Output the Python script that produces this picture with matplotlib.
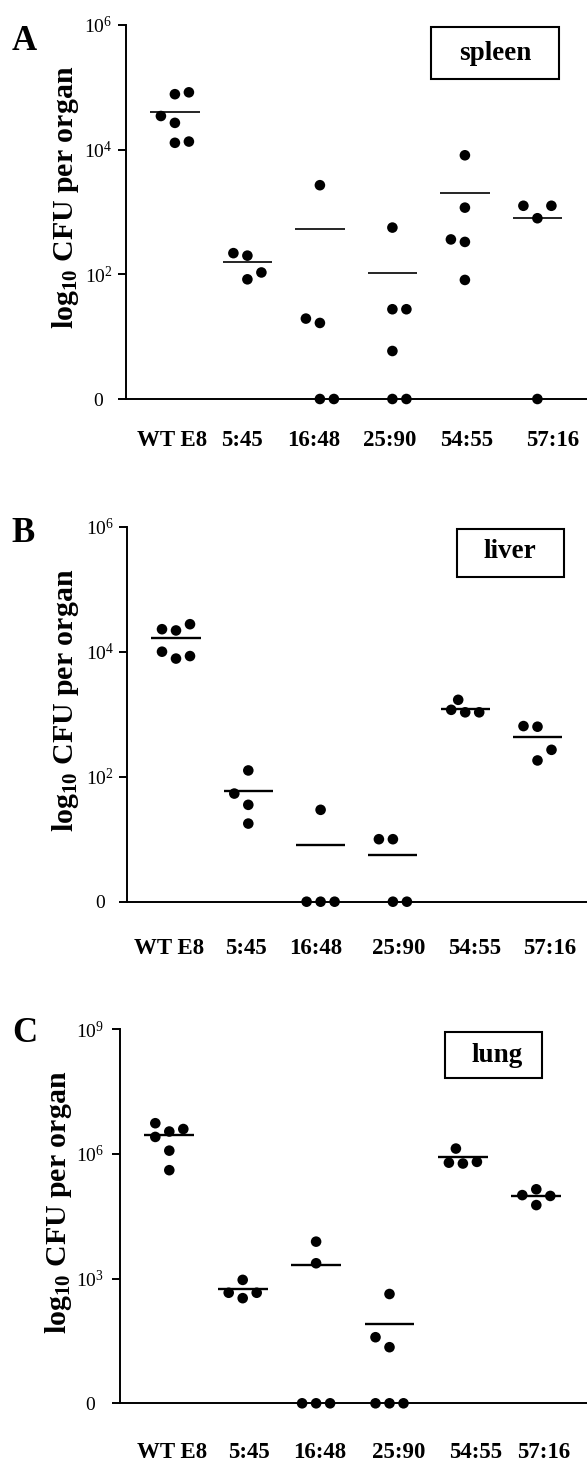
import matplotlib
matplotlib.use("Agg")
import matplotlib.pyplot as plt
from matplotlib.patches import Rectangle

plt.rcParams['font.family'] = ['Liberation Serif', 'DejaVu Serif']
plt.rcParams['mathtext.fontset'] = 'custom'
plt.rcParams['mathtext.rm'] = 'Liberation Serif'
plt.rcParams['mathtext.bf'] = 'Liberation Serif:bold'
plt.rcParams['mathtext.default'] = 'regular'

# ---------------- data (log10 CFU per organ; 0 = no CFU) ----------------
strains = ["WT E8", "5:45", "16:48", "25:90", "54:55", "57:16"]

# Panel A - spleen
spleen_vals = [
    [4.54, 4.89, 4.92, 4.43, 4.11, 4.13],
    [2.34, 2.30, 1.92, 2.03],
    [3.43, 1.29, 1.22, 0, 0],
    [2.75, 1.44, 1.44, 0.77, 0, 0],
    [3.91, 3.07, 2.56, 2.52, 1.91],
    [3.10, 3.10, 2.90, 0],
]
spleen_means = [4.61, 2.19, 2.73, 2.02, 3.31, 2.91]

# Panel B - liver
liver_vals = [
    [4.36, 4.34, 4.44, 4.00, 3.89, 3.93],
    [2.10, 1.73, 1.55, 1.25],
    [1.47, 0, 0, 0],
    [1.00, 1.00, 0, 0],
    [3.23, 3.07, 3.03, 3.03],
    [2.81, 2.80, 2.43, 2.26],
]
liver_means = [4.22, 1.77, 0.90, 0.75, 3.09, 2.64]

# Panel C - lung
lung_vals = [
    [6.74, 6.41, 6.54, 6.60, 6.08, 5.61],
    [2.97, 2.66, 2.66, 2.53],
    [3.89, 3.37, 0, 0, 0],
    [2.63, 1.59, 1.35, 0, 0, 0],
    [6.13, 5.79, 5.77, 5.81],
    [5.15, 5.01, 4.99, 4.77],
]
lung_means = [6.46, 2.75, 3.32, 1.91, 5.92, 5.00]

# column slot of each dot within its group
spleen_slots = [[-1, 0, 1, 0, 0, 1], [-1, 0, 0, 1], [0, -1, 0, 0, 1],
                [0, 0, 1, 0, 0, 1], [0, 0, -1, 0, 0], [-1, 1, 0, 0]]
liver_slots = [[-1, 0, 1, -1, 0, 1], [0, -1, 0, 0], [0, -1, 0, 1],
               [-1, 0, 0, 1], [-0.5, -1, 0, 1], [-1, 0, 1, 0]]
lung_slots = [[-1, -1, 0, 1, 0, 0], [0, -1, 1, 0], [0, 0, -1, 0, 1],
              [0, -1, 0, -1, 0, 1], [-0.5, -1, 0, 1], [0, -1, 1, 0]]

ab_ticks = [0, 2, 4, 6]
ab_ticklabels = ["0", "$10^2$", "$10^4$", "$10^6$"]
c_ticks = [0, 3, 6, 9]
c_ticklabels = ["0", "$10^3$", "$10^6$", "$10^9$"]

# ---------------- figure ----------------
W, H = 587, 1463
fig = plt.figure(figsize=(W / 100, H / 100), dpi=100)


def fx(px):
    return px / W


def fy(py):
    return 1 - py / H


def panel(left, top, bottom, cx0, dx, vals, slots, means, ticks, ticklabels,
          lab_x, lab_y, mean_lw, letter, letter_xy, ylab_xy, box, box_text,
          text_xy, ytl_pad):
    ax = fig.add_axes([fx(left), fy(bottom), fx(W - left), (bottom - top) / H])
    xl = (left - cx0) / dx
    xr = (W - cx0) / dx
    ax.set_xlim(xl, xr)
    ax.set_ylim(ticks[0], ticks[-1])
    off = 14.0 / dx
    for i, (v, s) in enumerate(zip(vals, slots)):
        xs = [i + k * off for k in s]
        ax.scatter(xs, v, s=58, color='black', edgecolors='none',
                   zorder=4, clip_on=False)
        ax.hlines(means[i], i - 0.34, i + 0.34, color='black', lw=mean_lw, zorder=3)
    for sp in ['top', 'right']:
        ax.spines[sp].set_visible(False)
    for sp in ['left', 'bottom']:
        ax.spines[sp].set_linewidth(1.4)
    ax.set_yticks(ticks)
    ax.set_yticklabels(ticklabels, fontsize=14)
    for t in ax.get_yticklabels():
        t.set_ha('center')
    ax.tick_params(axis='y', length=5.5, width=1.4, pad=ytl_pad)
    ax.set_xticks([])
    for name, x in zip(strains, lab_x):
        fig.text(fx(x), fy(lab_y), name, fontsize=16.5, fontweight='bold',
                 ha='center', va='center')
    fig.text(fx(letter_xy[0]), fy(letter_xy[1]), letter, fontsize=25,
             fontweight='bold', ha='center', va='center')
    fig.text(fx(ylab_xy[0]), fy(ylab_xy[1]), r"log$_{\mathbf{10}}$ CFU per organ",
             rotation=90, fontsize=21.5, fontweight='bold', ha='center', va='center')
    bx0, by0, bx1, by1 = box
    fig.add_artist(Rectangle((fx(bx0), fy(by1)), fx(bx1 - bx0), (by1 - by0) / H,
                             transform=fig.transFigure, fill=False, lw=1.5,
                             edgecolor='black'))
    fig.text(fx(text_xy[0]), fy(text_xy[1]), box_text, fontsize=19.5,
             fontweight='bold', ha='center', va='center')
    return ax


panel(125.5, 25, 399, 174.9, 72.5, spleen_vals, spleen_slots, spleen_means,
      ab_ticks, ab_ticklabels, [172, 242, 314, 390, 467, 553], 440, 1.2,
      "A", (24.5, 42), (66, 197), (431, 27, 559, 79), "spleen", (495, 53), 14)
panel(127.3, 526.7, 901.7, 176.0, 72.3, liver_vals, liver_slots, liver_means,
      ab_ticks, ab_ticklabels, [169, 246, 316, 399, 475, 550], 948, 1.7,
      "B", (23.5, 533), (66, 700), (457, 529, 564, 577), "liver", (510, 552), 14)
panel(120.0, 1029.3, 1403.3, 169.3, 73.4, lung_vals, lung_slots, lung_means,
      c_ticks, c_ticklabels, [172, 249, 320, 399, 476, 544], 1453, 1.7,
      "C", (24.5, 1034), (59, 1202), (445, 1032, 542, 1078), "lung", (497, 1055), 16)

fig.savefig("out.png", dpi=100)
